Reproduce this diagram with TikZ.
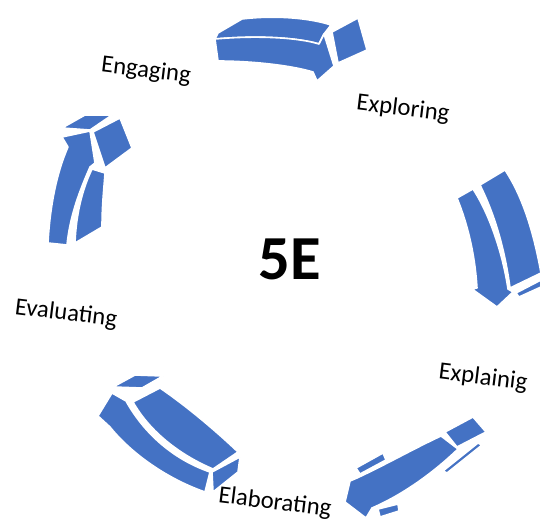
\documentclass[tikz,border=0pt]{standalone}
\usepackage{fontspec}
\setmainfont{Carlito}
\definecolor{arrowblue}{RGB}{68,114,196}
\tikzset{every picture/.style={line width=0.75pt}}
\tikzset{face/.style={fill=arrowblue, draw=white, line width=1.2pt, line join=round},
	stage/.style={inner sep=0.75pt, font=\fontsize{18.5}{22}\selectfont, rotate=-7}}

\begin{document}
\begin{tikzpicture}[x=0.75pt,y=0.75pt,yscale=-1,xscale=1]
		\useasboundingbox (0,0) rectangle (540,521);
		
		%Shape: Arrow Engaging -> Exploring
		\draw [face] (218,33) -- (242,19) .. controls (275,15) and (310,18) .. (331,25) -- (324,34) -- (319,44) .. controls (300,38) and (260,35) .. (215,39) -- cycle ;
		\draw [face] (215,39) .. controls (260,35) and (300,38) .. (319,44) -- (324,34) -- (334,66) -- (317,81) -- (313,72) .. controls (290,65) and (250,61) .. (218,61) -- cycle ;
		\draw [face] (332,32) -- (358,18) -- (367,50) -- (338,63) -- cycle ;
		
		%Shape: Arrow Exploring -> Explainig
		\draw [face] (457,198) -- (473,189) .. controls (490,215) and (503,255) .. (508,289) -- (513,292) -- (497,307) -- (472,289) -- (477,288) .. controls (475,255) and (468,225) .. (457,198) -- cycle ;
		\draw [face] (480,185) -- (505,170) .. controls (525,200) and (535,240) .. (541,273) -- (510,288) .. controls (505,250) and (495,215) .. (480,185) -- cycle ;
		\draw [face] (516,293) -- (541,280) -- (541,287) -- (519,297) -- cycle ;
		
		%Shape: Arrow Explainig -> Elaborating
		\draw [face] (445,432) -- (473,417) -- (486,432) -- (457,447) -- cycle ;
		\draw [face] (441,436) .. controls (415,448) and (385,465) .. (357,478) -- (350,481) -- (345,502) -- (366,518) -- (372,508) .. controls (402,495) and (432,474) .. (458,449) -- cycle ;
		\draw [face] (356,468) -- (383,453) -- (386,460) -- (360,474) -- cycle ;
		\draw [face] (443,471) -- (478,443) -- (482,445) -- (447,473) -- cycle ;
		\draw [face] (378,509) -- (398,504) -- (399,511) -- (380,517) -- cycle ;
		
		%Shape: Arrow Elaborating -> Evaluating
		\draw [face] (113,387) -- (135,375) -- (163,376) -- (142,388) -- cycle ;
		\draw [face] (133,402) -- (160,388) .. controls (185,405) and (215,430) .. (238,452) -- (213,469) .. controls (180,455) and (150,432) .. (133,402) -- cycle ;
		\draw [face] (112,393) -- (126,401) .. controls (145,435) and (175,460) .. (210,472) -- (205,492) .. controls (165,478) and (130,452) .. (110,427) -- (98,416) -- cycle ;
		\draw [face] (212,472) -- (240,457) -- (238,472) -- (213,492) -- cycle ;
		
		%Shape: Arrow Evaluating -> Engaging
		\draw [face] (48,243) .. controls (50,205) and (57,172) .. (68,147) -- (62,137) -- (90,131) -- (95,163) -- (90,167) .. controls (80,190) and (70,215) .. (67,245) -- cycle ;
		\draw [face] (75,243) -- (102,227) .. controls (102,205) and (104,188) .. (105,173) -- (92,169) .. controls (82,190) and (76,215) .. (75,243) -- cycle ;
		\draw [face] (62,128) -- (85,115) -- (112,115) -- (90,130) -- cycle ;
		\draw [face] (93,132) -- (120,118) -- (132,148) -- (105,168) -- cycle ;
		
		\node [stage] (engaging) at (146,71) {Engaging};
		\node [stage] (exploring) at (403,109) {Exploring};
		\node [stage] (explaining) at (483,378) {Explainig};
		\node [stage] (elaborating) at (275,503) {Elaborating};
		\node [stage] (evaluating) at (66,314) {Evaluating};
		\node [inner sep=0.75pt, font=\fontsize{47}{56}\selectfont\bfseries] (fivee) at (290,259) {5E};
		
	\end{tikzpicture}
\end{document}
